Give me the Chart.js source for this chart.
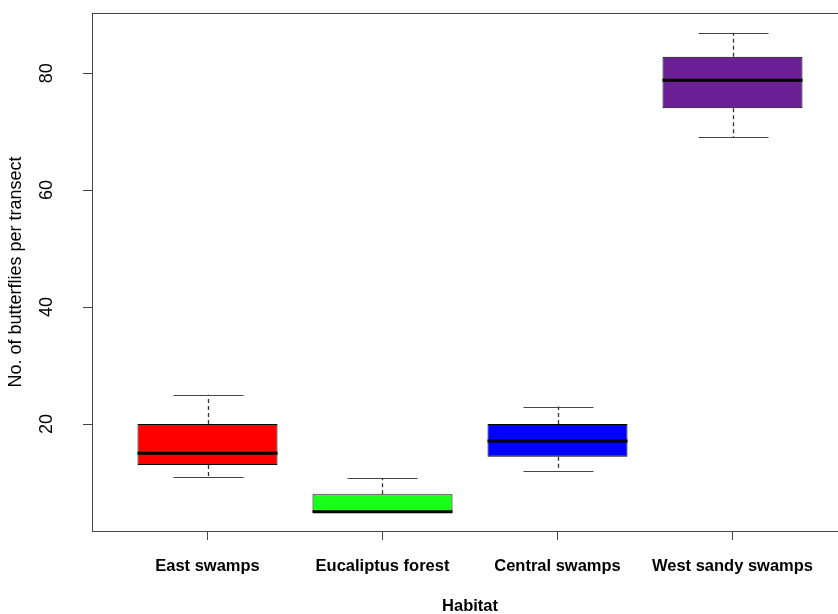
<!DOCTYPE html>
<html>
<head>
<meta charset="utf-8">
<script src="https://cdn.jsdelivr.net/npm/chart.js@4"></script>
<style>
  html, body { margin: 0; padding: 0; overflow: hidden; background: #fff; }
  #wrap { width: 860px; height: 614px; }
</style>
</head>
<body>
<div id="wrap"><canvas id="myChart" width="860" height="614"></canvas></div>
<script>
const categories = ['East swamps', 'Eucaliptus forest', 'Central swamps', 'West sandy swamps'];
const mins    = [11, 5, 12, 69];
const q1s     = [13, 5, 14.4, 74];
const medians = [15, 5, 17.1, 78.8];
const q3s     = [20, 8, 20, 82.8];
const maxs    = [25, 10.8, 23, 86.9];
const boxColors = ['#ff0000', '#1aff1a', '#0000ff', '#6b1f95'];
const yTicks = [20, 40, 60, 80];

const yTitle = 'No. of butterflies per transect';
const xTitle = 'Habitat';

// whiskers, medians, frame and rotated y labels
const boxExtras = {
  id: 'boxExtras',
  afterDatasetsDraw(chart) {
    const ctx = chart.ctx;
    const ys = chart.scales.y;
    const meta = chart.getDatasetMeta(0);
    ctx.save();
    categories.forEach((c, i) => {
      const bar = meta.data[i];
      const x = Math.round(bar.x) + 0.5;
      const half = bar.width / 2;
      const cap = half / 2;
      // dashed whiskers
      ctx.strokeStyle = '#333';
      ctx.lineWidth = 1.3;
      ctx.setLineDash([4, 3]);
      ctx.beginPath();
      ctx.moveTo(x, ys.getPixelForValue(q3s[i]));
      ctx.lineTo(x, ys.getPixelForValue(maxs[i]));
      ctx.moveTo(x, ys.getPixelForValue(q1s[i]));
      ctx.lineTo(x, ys.getPixelForValue(mins[i]));
      ctx.stroke();
      ctx.setLineDash([]);
      // staples
      ctx.strokeStyle = '#444';
      ctx.lineWidth = 1;
      ctx.beginPath();
      [maxs[i], mins[i]].forEach(v => {
        const y = Math.round(ys.getPixelForValue(v)) + 0.5;
        ctx.moveTo(x - cap, y);
        ctx.lineTo(x + cap, y);
      });
      ctx.stroke();
      // median
      ctx.strokeStyle = '#000';
      ctx.lineWidth = 3;
      ctx.beginPath();
      const ym = ys.getPixelForValue(medians[i]);
      ctx.moveTo(bar.x - half, ym);
      ctx.lineTo(bar.x + half, ym);
      ctx.stroke();
    });
    ctx.restore();
  },
  afterDraw(chart) {
    const ctx = chart.ctx;
    const a = chart.chartArea;
    const ys = chart.scales.y;
    ctx.save();
    ctx.strokeStyle = '#444';
    ctx.lineWidth = 1;
    ctx.strokeRect(Math.round(a.left) + 0.5, Math.round(a.top) + 0.5,
                   Math.round(a.right - a.left), Math.round(a.bottom - a.top));
    ctx.fillStyle = '#000';
    ctx.textAlign = 'center';
    ctx.textBaseline = 'alphabetic';
    ctx.font = '18px "Liberation Sans", Arial, sans-serif';
    yTicks.forEach(v => {
      ctx.save();
      ctx.translate(52, ys.getPixelForValue(v));
      ctx.rotate(-Math.PI / 2);
      ctx.fillText(String(v), 0, 0);
      ctx.restore();
    });
    ctx.save();
    ctx.translate(21, (a.top + a.bottom) / 2);
    ctx.rotate(-Math.PI / 2);
    ctx.fillText(yTitle, 0, 0);
    ctx.restore();
    ctx.font = 'bold 16.5px "Liberation Sans", Arial, sans-serif';
    ctx.fillText(xTitle, (a.left + a.right) / 2, 611);
    ctx.restore();
  }
};

const ctx = document.getElementById('myChart').getContext('2d');
const myChart = new Chart(ctx, {
  type: 'bar',
  data: {
    datasets: [{
      data: categories.map((c, i) => ({ x: i + 1, y: [q1s[i], q3s[i]] })),
      backgroundColor: boxColors,
      borderColor: '#000',
      borderWidth: 1,
      borderSkipped: false,
      barPercentage: 1,
      categoryPercentage: 0.8
    }]
  },
  options: {
    responsive: false,
    animation: false,
    layout: { padding: { top: 13, right: 12, left: 0, bottom: 0 } },
    plugins: { legend: { display: false }, tooltip: { enabled: false } },
    scales: {
      x: {
        type: 'linear',
        min: 0.34,
        max: 4.66,
        offset: false,
        afterBuildTicks: s => { s.ticks = categories.map((c, i) => ({ value: i + 1 })); },
        afterFit: s => { s.height = 83; },
        border: { display: false },
        grid: { offset: false, drawOnChartArea: false, tickLength: 9, color: '#444' },
        ticks: {
          padding: 17,
          color: '#000',
          maxRotation: 0,
          autoSkip: false,
          font: { family: '"Liberation Sans", Arial, sans-serif', size: 16.5, weight: 'bold' },
          callback: v => categories[v - 1]
        }
      },
      y: {
        min: 1.72,
        max: 90.28,
        afterBuildTicks: s => { s.ticks = yTicks.map(v => ({ value: v })); },
        afterFit: s => { s.width = 92; },
        border: { display: false },
        grid: { drawOnChartArea: false, tickLength: 9, color: '#444' },
        ticks: { display: false }
      }
    }
  },
  plugins: [boxExtras]
});
</script>
</body>
</html>
